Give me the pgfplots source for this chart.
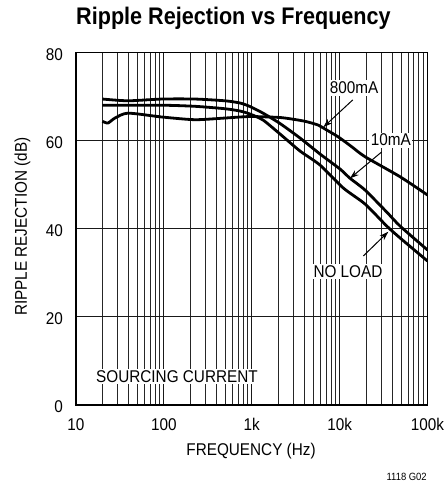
\documentclass[border=0pt]{standalone}
\usepackage{fontspec}
\setmainfont{Liberation Sans}[FakeStretch=0.9]
\usepackage{pgfplots}
\pgfplotsset{compat=1.18}
\usetikzlibrary{arrows.meta}

% curves (Hz, dB)
\pgfplotstableread{
f       db
20      69.4
39.1    69.0
95.2    69.4
226     69.4
496     69.0
735     68.5
955     67.7
1343    66.2
2097    63.85
3540    60.56
5980    56.93
10100   53.53
13130   51.42
19450   48.76
34340   43.77
48660   40.6
100000  35.16
}\tenma
\pgfplotstableread{
f       db
20      68.0
95.2    68.0
226     67.75
496     67.2
735     66.68
955     66.0
1343    64.64
2097    61.47
3540    57.61
5980    54.43
11010   49.22
19450   45.59
34340   40.6
48660   37.9
100000  32.66
}\noload
\pgfplotstableread{
f       db
20      64.35
23.1    63.96
27.8    65.09
39.1    66.2
95.2    65.32
226     64.71
496     65.09
955     65.43
2097    65.21
3360    64.64
4221    64.26
5675    63.51
6818    62.6
9584    60.85
13730   58.58
19450   56.32
48660   51.78
100000  47.63
}\eighthundred

\newcommand{\lbl}{\fontsize{17}{17}\selectfont}

\begin{document}
\begin{tikzpicture}
\path[use as bounding box] (-76pt,-91pt) rectangle (370pt,405pt);
\begin{axis}[
    at={(0pt,0pt)}, anchor=south west,
    scale only axis,
    width=351.5pt, height=352.7pt,
    xmode=log, log basis x=10,
    xmin=10, xmax=100000,
    ymin=0, ymax=80,
    xtick={10,100,1000,10000,100000},
    xticklabels={10,100,1k,10k,100k},
    minor xtick={20,30,40,50,60,70,80,90,
                 200,300,400,500,600,700,800,900,
                 2000,3000,4000,5000,6000,7000,8000,9000,
                 20000,30000,40000,50000,60000,70000,80000,90000},
    ytick={0,20,40,60,80},
    yticklabels={0,20,40,60,80},
    grid=both,
    major grid style={draw=black!90, line width=1pt},
    minor grid style={draw=black!85, line width=1pt},
    tick style={draw=none},
    axis line style={black, line width=1.1pt},
    tick label style={font=\lbl, inner sep=0pt},
    xticklabel style={anchor=north, yshift=-13pt},
    yticklabel style={anchor=east, xshift=-13pt, yshift=-2pt},
    title={Ripple Rejection vs Frequency},
    title style={at={(0.448,1.062)}, anchor=base, inner sep=0pt,
        font=\fontsize{24}{24}\selectfont\bfseries},
    xlabel={FREQUENCY (Hz)},
    xlabel style={at={(0.498,-0.1418)}, anchor=base, inner sep=0pt, font=\lbl},
    ylabel={RIPPLE REJECTION (dB)},
    ylabel style={at={(-0.140,0.5055)}, anchor=base, inner sep=0pt, font=\lbl},
]
\addplot[black, line width=2.8pt, smooth, tension=0.4] table[x=f, y=db] {\tenma};
\addplot[black, line width=2.8pt, smooth, tension=0.4] table[x=f, y=db] {\noload};
\addplot[black, line width=2.8pt, smooth, tension=0.4] table[x=f, y=db] {\eighthundred};

\draw[line width=1pt, -{Stealth[length=9pt, width=6pt]}]
    (axis cs:14100,69.2) -- (axis cs:6520,63.0);
\draw[line width=1pt, -{Stealth[length=9pt, width=6pt]}]
    (axis cs:30100,57.4) -- (axis cs:13100,51.4);
\draw[line width=1pt, -{Stealth[length=9pt, width=6pt]}]
    (axis cs:18600,33.8) -- (axis cs:35800,39.3);

\node[fill=white, inner sep=1.5pt, font=\lbl] at (axis cs:14600,71.9) {800mA};
\node[fill=white, inner sep=1.5pt, font=\lbl] at (axis cs:38400,60.1) {10mA};
\node[fill=white, inner sep=1.5pt, font=\lbl] at (axis cs:12450,30.3) {NO LOAD};
\node[fill=white, inner sep=1.5pt, font=\lbl] at (axis cs:141,6.46) {SOURCING CURRENT};
\end{axis}
\node[font=\fontsize{10.5}{10.5}\selectfont] at (330.7pt,-71.7pt) {1118 G02};
\end{tikzpicture}
\end{document}
